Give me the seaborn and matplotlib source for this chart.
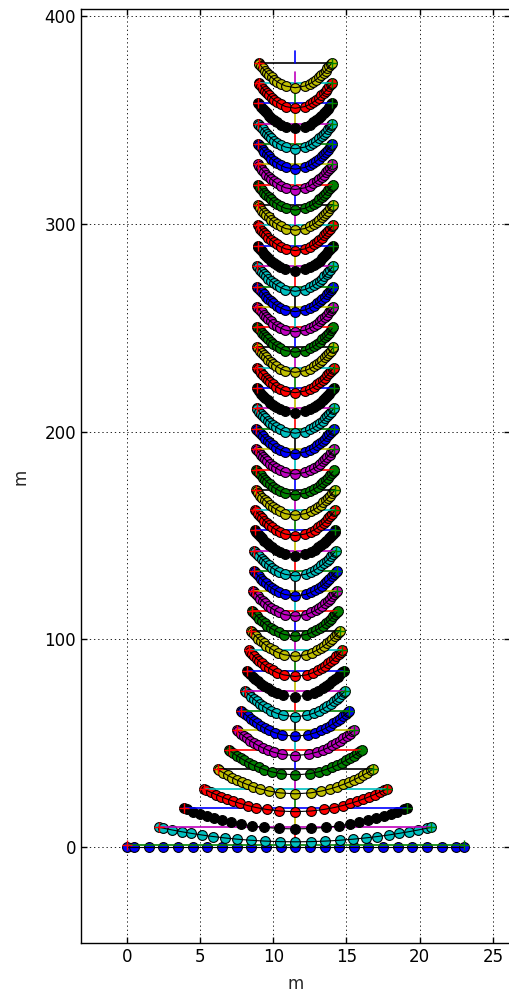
import numpy as np
import pandas as pd
import matplotlib
matplotlib.use("Agg")
import matplotlib.pyplot as plt
import seaborn as sns

# ---------------- data ----------------
# height (m) of the horizontal bar of every level, bottom to top
LEVEL_Y = [1.0, 9.5, 18.6, 28.0, 37.4, 46.8, 56.2, 65.7, 75.2, 84.8,
           94.6, 104.2, 113.8, 123.4, 133.0, 142.7, 152.4, 162.1, 171.9, 181.7,
           191.6, 201.4, 211.2, 221.0, 230.8, 240.6, 250.3, 260.1, 269.8, 279.6,
           289.4, 299.3, 309.1, 318.8, 328.6, 338.4, 348.2, 358.0, 367.8, 377.5]
# half span (m) of every level around the centre line
HALF_W = [11.5, 9.3, 7.6, 6.25, 5.3, 4.55, 4.0, 3.7, 3.42, 3.3,
          3.18, 3.05, 2.95, 2.88, 2.82, 2.78, 2.75, 2.72, 2.70, 2.68,
          2.66, 2.65, 2.64, 2.63, 2.62, 2.61, 2.60, 2.60, 2.59, 2.58,
          2.57, 2.56, 2.55, 2.55, 2.54, 2.53, 2.52, 2.51, 2.50, 2.50]
# sag (m) of the hanging chain of every level, below its bar
SAG = [0.0, 7.0, 9.9, 11.0, 11.8, 12.1, 12.2, 12.4, 12.5, 12.5,
       12.5, 12.4, 12.3, 12.3, 12.2, 12.2, 12.2, 12.2, 12.2, 12.2,
       12.1, 12.0, 12.0, 12.1, 12.1, 12.1, 12.1, 12.1, 12.1, 12.1,
       12.2, 12.2, 12.2, 12.2, 12.1, 12.1, 12.1, 12.1, 12.2, 12.0]
CHAIN_TOP_LEVEL0 = 0.0      # bottom chain lies on the ground
CENTER_X = 11.5
STEM_LEN = 5.5              # vertical centre stroke above each bar
N_LINKS = 23                # links per chain (nodes at link midpoints + ends)
COLOR_CYCLE = ['#0000ff', '#008000', '#ff0000', '#00bfbf', '#bf00bf', '#bfbf00', '#000000']
X_TICKS = [0, 5, 10, 15, 20, 25]
Y_TICKS = [0, 100, 200, 300, 400]
X_LABEL = "m"
Y_LABEL = "m"

# ---------------- style ----------------
sns.set_style("white")
plt.rcParams.update({
    "font.family": ["DejaVu Sans"],
    "font.size": 12,
    "axes.edgecolor": "black",
    "axes.linewidth": 1.0,
    "xtick.direction": "in",
    "ytick.direction": "in",
    "xtick.top": True,
    "ytick.right": True,
    "xtick.bottom": True,
    "ytick.left": True,
    "xtick.major.size": 4,
    "ytick.major.size": 4,
    "xtick.major.width": 1.0,
    "ytick.major.width": 1.0,
    "xtick.color": "black",
    "ytick.color": "black",
    "xtick.labelsize": 12,
    "ytick.labelsize": 12,
    "axes.labelsize": 12,
})

fig = plt.figure(figsize=(5.10, 9.94), dpi=100)
ax = fig.add_axes([81 / 510, 50.6 / 994, 1 - 81 / 510, (943.4 - 9.4) / 994])


def chain_nodes(top, hw, sag):
    """Nodes (link midpoints + both ends) of a chain hanging as a parabola."""
    if sag <= 0:
        L = 2 * hw
        s = np.concatenate([[-L / 2], -L / 2 + (np.arange(N_LINKS) + 0.5) * L / N_LINKS, [L / 2]])
        return CENTER_X + s, np.full_like(s, top)
    c = sag / hw ** 2
    xs = np.linspace(0, hw, 4001)
    arc = 0.5 * xs * np.sqrt(1 + 4 * c * c * xs * xs) + np.arcsinh(2 * c * xs) / (4 * c)
    half = arc[-1]
    L = 2 * half
    s = np.concatenate([[-half], -half + (np.arange(N_LINKS) + 0.5) * L / N_LINKS, [half]])
    dx = np.sign(s) * np.interp(np.abs(s), arc, xs)
    y = (top - sag) + c * dx ** 2
    return CENTER_X + dx, y


z = 2
for k, (ly, hw, sg) in enumerate(zip(LEVEL_Y, HALF_W, SAG)):
    top = CHAIN_TOP_LEVEL0 if k == 0 else ly
    cx, cy = chain_nodes(top, hw, sg)
    df = pd.DataFrame({"x": cx, "y": cy})
    c_circ = COLOR_CYCLE[(3 * k) % 7]
    c_bar = COLOR_CYCLE[(3 * k + 1) % 7]
    c_stem = COLOR_CYCLE[(3 * k + 2) % 7]

    sns.scatterplot(data=df, x="x", y="y", color=c_circ, s=50, edgecolor="black",
                    linewidth=0.8, ax=ax, zorder=z, legend=False)
    z += 1
    bar = pd.DataFrame({"x": [CENTER_X - hw, CENTER_X + hw], "y": [ly, ly]})
    sns.lineplot(data=bar, x="x", y="y", color=c_bar, lw=1.2, sort=False,
                 estimator=None, ax=ax, zorder=z)
    z += 1
    stem = pd.DataFrame({"x": [CENTER_X, CENTER_X], "y": [ly, ly + STEM_LEN]})
    sns.lineplot(data=stem, x="x", y="y", color=c_stem, lw=1.2, sort=False,
                 estimator=None, orient="y", ax=ax, zorder=z)
    z += 1
    sns.lineplot(data=df, x="x", y="y", color="black", lw=0.8, sort=False,
                 estimator=None, ax=ax, zorder=z)
    z += 1
    sns.scatterplot(x=[CENTER_X - hw], y=[ly], marker="+", color="red", s=60,
                    linewidth=1.0, ax=ax, zorder=z, legend=False)
    sns.scatterplot(x=[CENTER_X + hw], y=[ly], marker="+", color="green", s=60,
                    linewidth=1.0, ax=ax, zorder=z, legend=False)
    z += 1

ax.set_xlim(-3.12, 26.16)
ax.set_ylim(-46.4, 403.2)
ax.set_xticks(X_TICKS)
ax.set_yticks(Y_TICKS)
ax.grid(True, color="black", linestyle=(0, (1.6, 3.4)), linewidth=0.6)
ax.set_axisbelow(True)
ax.set_xlabel(X_LABEL, labelpad=6)
ax.set_ylabel(Y_LABEL, labelpad=11)
for sp in ax.spines.values():
    sp.set_visible(True)
    sp.set_color("black")

fig.savefig("out.png", dpi=100)
